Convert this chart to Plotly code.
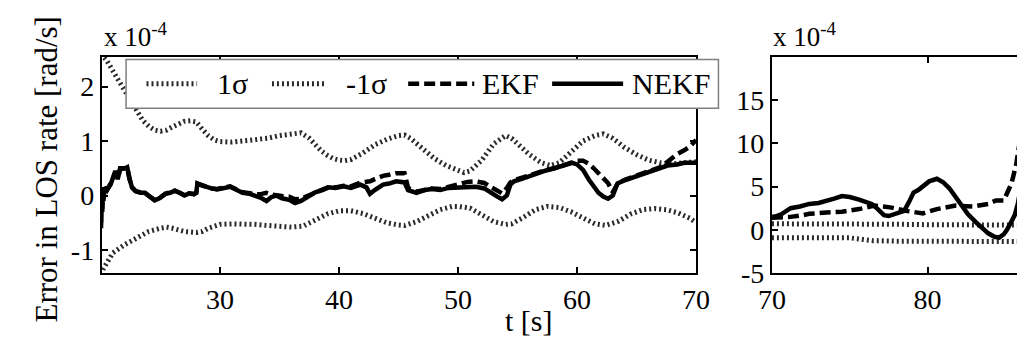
import plotly.graph_objects as go

W, H = 1025, 347
FONT = "Liberation Serif"

# ---------------- data (values in units of 1e-4 rad/s) ----------------
# left panel: t in [20, 70] s
t_sig_up_L = [20.0, 20.5, 21.5, 22.5, 23.0, 23.5, 24.0, 24.5, 25.0, 25.5, 26.0, 26.5, 27.0, 27.5,
              28.0, 28.5, 29.0, 29.5, 30.0, 31.0, 32.0, 33.0, 34.0, 35.0, 36.0, 36.8, 37.5, 38.0,
              38.5, 39.0, 39.5, 40.0, 40.5, 41.0, 42.0, 43.0, 44.0, 45.0, 45.5, 46.0, 47.0, 48.0,
              49.0, 50.0, 50.5, 51.0, 52.0, 53.0, 54.0, 54.5, 55.0, 56.0, 57.0, 57.8, 58.5, 59.5,
              60.5, 61.5, 62.2, 63.0, 64.0, 65.0, 66.0, 67.0, 68.0, 69.0, 70.0]
sig_up_L = [2.6, 2.47, 2.1, 1.75, 1.55, 1.38, 1.27, 1.2, 1.18, 1.2, 1.26, 1.32, 1.36, 1.37,
            1.35, 1.22, 1.1, 1.02, 0.99, 0.98, 1.0, 1.03, 1.05, 1.1, 1.14, 1.15, 1.05, 0.93,
            0.82, 0.74, 0.68, 0.65, 0.64, 0.66, 0.78, 0.93, 1.03, 1.1, 1.11, 1.05, 0.86, 0.68,
            0.55, 0.45, 0.42, 0.45, 0.65, 0.95, 1.1, 1.05, 0.95, 0.75, 0.6, 0.55, 0.6, 0.8,
            1.0, 1.1, 1.13, 1.05, 0.88, 0.75, 0.65, 0.6, 0.58, 0.6, 0.62]

t_sig_lo_L = [20.0, 20.2, 21.0, 22.0, 23.0, 24.0, 25.0, 25.5, 26.0, 27.0, 28.0, 28.5, 29.0, 30.0,
              31.0, 32.0, 33.0, 34.0, 35.0, 36.0, 37.0, 38.0, 39.0, 40.0, 41.0, 42.0, 43.0, 44.0,
              45.0, 45.5, 46.5, 47.5, 48.5, 49.5, 50.0, 51.0, 52.0, 53.0, 54.0, 54.5, 55.5, 56.5,
              57.5, 58.5, 59.5, 60.5, 61.5, 62.4, 63.5, 64.5, 65.5, 66.5, 67.5, 68.5, 69.5, 70.0]
sig_lo_L = [-1.45, -1.34, -1.05, -0.9, -0.78, -0.66, -0.6, -0.58, -0.6, -0.66, -0.68, -0.66, -0.6, -0.53,
            -0.52, -0.52, -0.53, -0.55, -0.57, -0.58, -0.56, -0.45, -0.34, -0.28, -0.28, -0.33, -0.42, -0.5,
            -0.54, -0.55, -0.48, -0.36, -0.26, -0.2, -0.2, -0.23, -0.35, -0.48, -0.53, -0.52, -0.4, -0.26,
            -0.2, -0.22, -0.3, -0.42, -0.52, -0.55, -0.47, -0.34, -0.26, -0.24, -0.26, -0.32, -0.42, -0.5]

t_filt_L = [20.0, 20.05, 20.1, 20.15, 20.2, 20.3, 20.5, 20.8, 21.0, 21.2, 21.4, 21.6, 22.0, 22.2,
            22.4, 22.6, 22.9, 23.3, 23.7, 24.1, 24.5, 24.9, 25.4, 25.8, 26.2, 26.6, 27.0, 27.4,
            27.8, 28.0, 28.1, 28.5, 28.9, 29.3, 29.75, 30.3, 30.85, 31.4, 31.9, 32.5, 33.0, 33.5,
            33.9, 34.3, 34.7, 35.2, 35.8, 36.3, 36.8, 37.4, 38.0, 38.6, 39.1, 39.7, 40.4, 41.0,
            41.8, 42.3, 42.6, 43.0, 43.7, 44.2, 44.8, 45.5, 45.8, 46.5, 47.2, 47.8, 48.5, 49.2,
            50.0, 50.8, 51.5, 52.2, 52.8, 53.3, 53.7, 54.1, 54.4, 54.7, 55.3, 56.0, 56.7, 57.4,
            58.1, 58.8, 59.6, 60.0, 60.5, 61.0, 61.4, 61.8, 62.2, 62.6, 63.0, 63.4, 64.0, 64.5,
            65.3, 66.2, 67.0, 67.6, 68.4, 69.0, 69.5, 70.0]
nekf_L = [-0.6, 0.1, -0.3, 0.15, -0.1, 0.15, 0.1, 0.2, 0.35, 0.45, 0.3, 0.5, 0.5, 0.52,
          0.3, 0.15, 0.08, 0.05, 0.05, -0.02, -0.09, -0.05, 0.03, 0.05, 0.09, 0.05, 0.0, 0.04,
          0.02, 0.05, 0.22, 0.18, 0.15, 0.13, 0.11, 0.14, 0.16, 0.1, 0.05, 0.03, 0.0, -0.05,
          -0.1, -0.03, 0.0, -0.05, -0.08, -0.14, -0.1, -0.01, 0.06, 0.1, 0.15, 0.14, 0.17, 0.14,
          0.2, 0.15, 0.03, 0.1, 0.2, 0.22, 0.26, 0.24, 0.1, 0.05, 0.1, 0.12, 0.1, 0.14,
          0.15, 0.17, 0.16, 0.13, 0.06, -0.02, -0.07, 0.0, 0.2, 0.26, 0.3, 0.36, 0.42, 0.46,
          0.5, 0.54, 0.6, 0.57, 0.47, 0.29, 0.16, 0.05, -0.02, -0.06, 0.0, 0.22, 0.28, 0.32,
          0.38, 0.44, 0.5, 0.55, 0.57, 0.6, 0.6, 0.6]
ekf_L = [-0.5, 0.1, -0.25, 0.15, -0.05, 0.15, 0.1, 0.22, 0.35, 0.42, 0.32, 0.48, 0.5, 0.5,
         0.3, 0.15, 0.08, 0.05, 0.04, -0.02, -0.08, -0.05, 0.03, 0.06, 0.09, 0.05, 0.01, 0.04,
         0.03, 0.05, 0.22, 0.19, 0.15, 0.13, 0.12, 0.14, 0.17, 0.11, 0.06, 0.04, 0.02, 0.03,
         0.05, 0.02, 0.0, -0.01, -0.02, -0.07, -0.06, 0.0, 0.07, 0.11, 0.15, 0.15, 0.18, 0.17,
         0.24, 0.25, 0.26, 0.3, 0.36, 0.38, 0.41, 0.41, 0.14, 0.07, 0.11, 0.13, 0.12, 0.16,
         0.2, 0.25, 0.26, 0.23, 0.15, 0.08, 0.04, 0.14, 0.24, 0.28, 0.32, 0.38, 0.43, 0.47,
         0.5, 0.55, 0.62, 0.64, 0.64, 0.58, 0.5, 0.41, 0.33, 0.23, 0.06, 0.22, 0.29, 0.33,
         0.39, 0.45, 0.52, 0.62, 0.76, 0.83, 0.9, 1.02]

# right panel: t from 70 s onward
t_sig_R = [70.0, 72.0, 74.0, 75.0, 75.8, 76.5, 78.0, 80.0, 82.0, 84.0, 85.9]
sig_up_R = [0.7, 0.72, 0.75, 0.72, 0.7, 0.68, 0.65, 0.6, 0.55, 0.55, 0.55]
sig_lo_R = [-0.9, -0.88, -0.85, -0.92, -1.1, -1.25, -1.3, -1.3, -1.3, -1.32, -1.35]

t_nekf_R = [70.0, 70.15, 70.6, 71.0, 71.2, 71.8, 72.4, 73.0, 73.5, 74.0, 74.5, 75.0, 75.6, 76.0,
            76.4, 76.8, 77.2, 77.5, 77.9, 78.5, 78.8, 79.1, 79.4, 79.7, 80.1, 80.6, 81.0, 81.4,
            81.8, 82.2, 82.6, 83.1, 83.5, 83.9, 84.3, 84.6, 84.9, 85.1, 85.4, 85.6, 85.8, 85.95]
nekf_R = [1.6, 1.5, 1.8, 2.3, 2.5, 2.7, 3.0, 3.1, 3.3, 3.6, 3.9, 3.8, 3.5, 3.3,
          3.0, 2.4, 1.7, 1.6, 1.85, 2.2, 3.2, 4.3, 4.6, 5.0, 5.6, 5.9, 5.5, 4.8,
          3.8, 2.8, 1.8, 0.9, 0.2, -0.4, -0.8, -0.9, -0.5, 0.0, 1.0, 1.7, 3.0, 4.5]

t_ekf_R = [70.0, 70.5, 71.2, 72.0, 72.4, 73.5, 74.5, 75.6, 76.6, 77.6, 78.6, 79.7, 80.6, 81.8,
           82.9, 83.9, 84.4, 84.9, 85.4, 85.7, 85.95]
ekf_R = [1.4, 1.4, 1.5, 1.7, 1.85, 2.0, 2.1, 2.4, 2.8, 2.6, 2.2, 1.9, 2.4, 2.8,
         2.7, 3.0, 3.4, 3.4, 5.4, 7.6, 10.5]

# tick labels
xt_L = [30, 40, 50, 60, 70]
yt_L = [-1, 0, 1, 2]
xt_R = [70, 80]
yt_R = [-5, 0, 5, 10, 15]

legend_names = ["1σ", "-1σ", "EKF", "NEKF"]

# ---------------- styles ----------------
SIG = dict(color="#2a2a2a", width=5, dash="2px,3px")
EKF = dict(color="black", width=4.5, dash="11px,5px")
NEKF = dict(color="black", width=4.5)


def px(x):
    return x / W


def py(y):
    return 1 - y / H


fig = go.Figure()
for (xa, ya, ts1, s1, ts2, s2, te, e, tn, n) in [
    ("x", "y", t_sig_up_L, sig_up_L, t_sig_lo_L, sig_lo_L, t_filt_L, ekf_L, t_filt_L, nekf_L),
    ("x2", "y2", t_sig_R, sig_up_R, t_sig_R, sig_lo_R, t_ekf_R, ekf_R, t_nekf_R, nekf_R),
]:
    fig.add_trace(go.Scatter(x=ts1, y=s1, mode="lines", line=SIG, name=legend_names[0],
                             xaxis=xa, yaxis=ya, showlegend=False))
    fig.add_trace(go.Scatter(x=ts2, y=s2, mode="lines", line=SIG, name=legend_names[1],
                             xaxis=xa, yaxis=ya, showlegend=False))
    fig.add_trace(go.Scatter(x=te, y=e, mode="lines", line=EKF, name=legend_names[2],
                             xaxis=xa, yaxis=ya, showlegend=False))
    fig.add_trace(go.Scatter(x=tn, y=n, mode="lines", line=NEKF, name=legend_names[3],
                             xaxis=xa, yaxis=ya, showlegend=False))


def axis(**kw):
    d = dict(showgrid=False, zeroline=False, showline=True, linecolor="black",
             linewidth=2, ticks="inside", ticklen=6, tickwidth=1.5, tickcolor="black",
             tickfont=dict(family=FONT, size=28, color="black"))
    d.update(kw)
    return d


def lab(vals):
    return [str(v) for v in vals]


fig.update_layout(
    width=W, height=H, margin=dict(l=0, r=0, t=0, b=0),
    paper_bgcolor="white", plot_bgcolor="white", showlegend=False,
    xaxis=axis(domain=[px(82), px(693)], range=[20.06, 70], tickvals=xt_L, ticktext=lab(xt_L),
               mirror="ticks", anchor="y"),
    yaxis=axis(domain=[py(278), py(51)], range=[-1.425, 2.548], tickvals=yt_L,
               ticktext=lab(yt_L), mirror="ticks", anchor="x"),
    xaxis2=axis(domain=[px(771), 1.0], range=[70, 85.875], tickvals=xt_R, ticktext=lab(xt_R),
                mirror="ticks", anchor="y2"),
    yaxis2=axis(domain=[py(278), py(51)], range=[-5, 20], tickvals=yt_R, ticktext=lab(yt_R),
                mirror=False, anchor="x2"),
)

annots = []
# y-axis title
annots.append(dict(text="Error in LOS rate [rad/s]", x=px(25), y=py(169), xref="paper", yref="paper",
                   textangle=-90, showarrow=False, font=dict(family=FONT, size=31, color="black"),
                   xanchor="center", yanchor="middle"))
# x-axis title
annots.append(dict(text="t [s]", x=px(521), y=py(328), xref="paper", yref="paper", showarrow=False,
                   font=dict(family=FONT, size=30, color="black"), xanchor="center", yanchor="middle"))
# exponent labels
for xl in (82, 770):
    annots.append(dict(text="x 10<sup>-4</sup>", x=px(xl), y=py(28), xref="paper", yref="paper",
                       showarrow=False, font=dict(family=FONT, size=27, color="black"),
                       xanchor="left", yanchor="middle"))

# manual legend (MATLAB style long samples)
shapes = [dict(type="rect", xref="paper", yref="paper", x0=px(107), x1=px(716), y0=py(105), y1=py(54),
               fillcolor="white", line=dict(color="#7f7f7f", width=1.5), layer="above")]
leg_y = 79.5
samples = [(128, 180, SIG), (257, 313, SIG), (397, 465, EKF), (545, 618, NEKF)]
text_x = [198, 331, 471, 625]
for (x0, x1, st), tx, name in zip(samples, text_x, legend_names):
    shapes.append(dict(type="line", xref="paper", yref="paper", x0=px(x0), x1=px(x1),
                       y0=py(leg_y), y1=py(leg_y), line=st, layer="above"))
    annots.append(dict(text=name, x=px(tx), y=py(leg_y), xref="paper", yref="paper", showarrow=False,
                       font=dict(family=FONT, size=30, color="black"), xanchor="left", yanchor="middle"))

fig.update_layout(annotations=annots, shapes=shapes)
fig.write_html("out.html")
